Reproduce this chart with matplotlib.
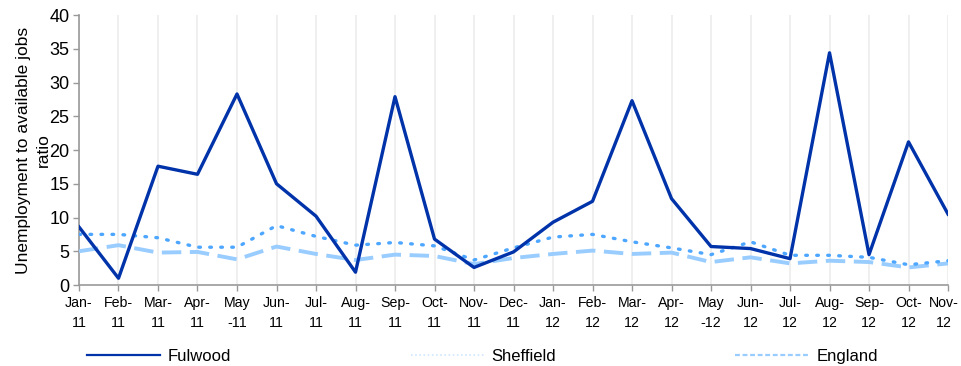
import matplotlib
matplotlib.use("Agg")
import matplotlib.pyplot as plt
import matplotlib.transforms as mtransforms
from matplotlib.lines import Line2D

plt.rcParams['font.family'] = ['Liberation Sans', 'DejaVu Sans']

months = ["Jan-\n11", "Feb-\n11", "Mar-\n11", "Apr-\n11", "May\n-11", "Jun-\n11",
          "Jul-\n11", "Aug-\n11", "Sep-\n11", "Oct-\n11", "Nov-\n11", "Dec-\n11",
          "Jan-\n12", "Feb-\n12", "Mar-\n12", "Apr-\n12", "May\n-12", "Jun-\n12",
          "Jul-\n12", "Aug-\n12", "Sep-\n12", "Oct-\n12", "Nov-\n12"]

fulwood = [8.6, 1.0, 17.6, 16.4, 28.3, 15.0, 10.2, 1.9, 27.9, 6.8, 2.6, 4.9,
           9.3, 12.4, 27.3, 12.8, 5.7, 5.4, 3.9, 34.4, 4.5, 21.2, 10.5]
sheffield = [7.5, 7.5, 7.0, 5.6, 5.6, 8.8, 7.2, 5.9, 6.3, 5.8, 3.7, 5.5,
             7.1, 7.5, 6.4, 5.5, 4.5, 6.4, 4.4, 4.4, 4.1, 3.0, 3.6]
england = [5.0, 5.9, 4.8, 4.9, 3.8, 5.7, 4.6, 3.7, 4.5, 4.3, 3.1, 4.0,
           4.6, 5.1, 4.6, 4.8, 3.4, 4.1, 3.2, 3.6, 3.4, 2.6, 3.2]

c_ful = "#0033aa"
c_shf = "#4da6ff"
c_eng = "#99ccff"

fig = plt.figure(figsize=(9.61, 3.66), dpi=100)
ax = fig.add_axes([0.0822, 0.2213, 0.9043, 0.7377])

x = list(range(len(months)))
ax.plot(x, england, color=c_eng, lw=2.8, linestyle=(0, (5, 2.2)), zorder=3)
ax.plot(x, sheffield, color=c_shf, lw=2.4, linestyle=(0, (0.5, 2.8)),
        dash_capstyle='round', zorder=4)
ax.plot(x, fulwood, color=c_ful, lw=2.4, zorder=5)

ax.set_xlim(0, len(months) - 1)
ax.set_ylim(0, 40)
ax.set_yticks(range(0, 41, 5))
ax.set_xticks(x)
ax.set_xticklabels(months, fontsize=10.2, linespacing=1.5)
ax.tick_params(axis='y', labelsize=13, colors='#999999', labelcolor='black',
               length=4, width=1, pad=3)
ax.tick_params(axis='x', colors='#999999', labelcolor='black',
               length=4, width=1, pad=4)

# nudge the last month label so it stays inside the figure edge
last = ax.get_xticklabels()[-1]
last.set_transform(last.get_transform() +
                   mtransforms.ScaledTranslation(-4 / 100, 0, fig.dpi_scale_trans))

for s in ('top', 'right'):
    ax.spines[s].set_visible(False)
for s in ('left', 'bottom'):
    ax.spines[s].set_color('#999999')
    ax.spines[s].set_linewidth(1.2)

ax.grid(axis='x', color='#ececec', lw=1.2, zorder=0)
ax.set_axisbelow(True)

ax.set_ylabel("Unemployment to available jobs\nratio", fontsize=12.5,
              linespacing=1.4, labelpad=-1)

handles = [
    Line2D([], [], color=c_ful, lw=1.6),
    Line2D([], [], color="#cfe6ff", lw=1.2, linestyle=(0, (1, 1.5))),
    Line2D([], [], color=c_eng, lw=1.6, linestyle=(0, (2.2, 1.2))),
]
fig.legend(handles, ["Fulwood", "Sheffield", "England"], loc='lower left',
           bbox_to_anchor=(0.082, -0.016, 0.84, 0.06), mode='expand', ncol=3,
           frameon=False, fontsize=12, handlelength=4.4, handletextpad=0.45,
           borderaxespad=0.1)

fig.savefig("out.png", dpi=100)
